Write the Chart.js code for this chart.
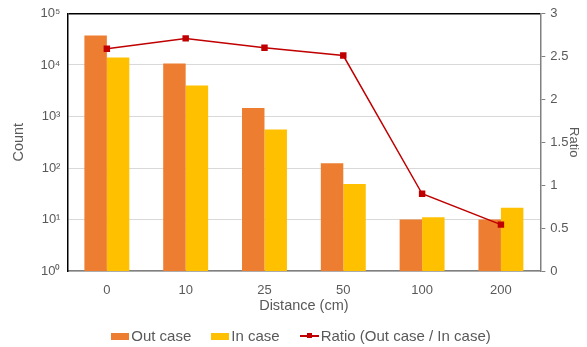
<!DOCTYPE html>
<html>
<head>
<meta charset="utf-8">
<script src="https://cdn.jsdelivr.net/npm/chart.js@4.4.0/dist/chart.umd.min.js"></script>
<style>
    html, body { margin: 0; padding: 0; background: #fff; }
    #wrap { position: relative; width: 587px; height: 347px; }
    #legend {
        position: absolute; left: 0; right: 0; top: 327px; padding-left: 15px;
        display: flex; justify-content: center; align-items: center;
        font-family: "Liberation Sans", Arial, sans-serif; font-size: 15px; line-height: 18px; color: #595959;
    }
    .item { display: flex; align-items: center; margin: 0 10px; }
    .box { width: 18px; height: 7px; margin-right: 2px; }
    .line { position: relative; width: 19px; height: 2px; background: #C00000; margin-right: 2px; }
    .line::after { content: ""; position: absolute; left: 7px; top: -2px; width: 5px; height: 5px; background: #C00000; }
</style>
</head>
<body>
<div id="wrap">
    <canvas id="chart" width="587" height="347"></canvas>
    <div id="legend">
        <div class="item"><span class="box" style="background:#ED7D31"></span>Out case</div>
        <div class="item"><span class="box" style="background:#FFC000"></span>In case</div>
        <div class="item"><span class="line"></span>Ratio (Out case / In case)</div>
    </div>
</div>
<script>
const distances = ["0", "10", "25", "50", "100", "200"];
const outCase = [37500, 10700, 1460, 123, 10, 10];
const inCase = [14000, 4000, 560, 49, 11, 17];
const ratio = [2.59, 2.71, 2.60, 2.51, 0.90, 0.54];
const countTicks = [1, 10, 100, 1000, 10000, 100000];
const countLabels = ["10⁰", "10¹", "10²", "10³", "10⁴", "10⁵"];

const FONT = "'Liberation Sans', Arial, sans-serif";
const GREY = "#595959";

new Chart(document.getElementById("chart"), {
    data: {
        labels: distances,
        datasets: [
            {
                type: "line",
                label: "Ratio (Out case / In case)",
                data: ratio,
                yAxisID: "y2",
                borderColor: "#C00000",
                backgroundColor: "#C00000",
                borderWidth: 1.5,
                pointStyle: "rect",
                pointRadius: 3.5,
                pointHoverRadius: 3.5,
                tension: 0,
                order: 0
            },
            {
                type: "bar",
                label: "Out case",
                data: outCase,
                yAxisID: "y",
                backgroundColor: "#ED7D31",
                categoryPercentage: 0.57,
                barPercentage: 1,
                order: 1
            },
            {
                type: "bar",
                label: "In case",
                data: inCase,
                yAxisID: "y",
                backgroundColor: "#FFC000",
                categoryPercentage: 0.57,
                barPercentage: 1,
                order: 1
            }
        ]
    },
    options: {
        responsive: false,
        animation: false,
        layout: { padding: { top: 2, left: 10, right: 5, bottom: 34 } },
        plugins: {
            legend: { display: false },
            tooltip: { enabled: false }
        },
        scales: {
            x: {
                grid: { display: false, drawTicks: false },
                border: { color: "#808080", width: 1.5 },
                ticks: { color: GREY, font: { family: FONT, size: 13 }, padding: 12 },
                title: { display: true, text: "Distance (cm)", color: GREY, font: { family: FONT, size: 14.5 }, padding: { top: -13, bottom: -2 } }
            },
            y: {
                type: "logarithmic",
                position: "left",
                min: 1,
                max: 100000,
                afterBuildTicks: axis => { axis.ticks = countTicks.map(v => ({ value: v })); },
                ticks: {
                    color: GREY,
                    font: { family: FONT, size: 13, lineHeight: 1 },
                    padding: 7,
                    callback: (v) => countLabels[countTicks.indexOf(v)]
                },
                grid: {
                    drawTicks: false,
                    color: c => (c.tick && c.tick.value === 100000) ? "#000" : "#d9d9d9",
                    lineWidth: c => (c.tick && c.tick.value === 100000) ? 1.5 : 1
                },
                border: { color: "#000", width: 1.5 },
                title: { display: true, text: "Count", color: GREY, font: { family: FONT, size: 14.5 }, padding: { top: 0, bottom: 6 } }
            },
            y2: {
                position: "right",
                min: 0,
                max: 3,
                ticks: { stepSize: 0.5, color: GREY, font: { family: FONT, size: 13, lineHeight: 1 }, padding: 5, callback: v => String(v) },
                grid: { drawOnChartArea: false, tickLength: 5, color: "#808080" },
                border: { color: "#808080", width: 1.5 },
                title: { display: true, text: "Ratio", color: GREY, font: { family: FONT, size: 13 }, padding: { top: 1, bottom: -8 } }
            }
        }
    }
});
</script>
</body>
</html>
